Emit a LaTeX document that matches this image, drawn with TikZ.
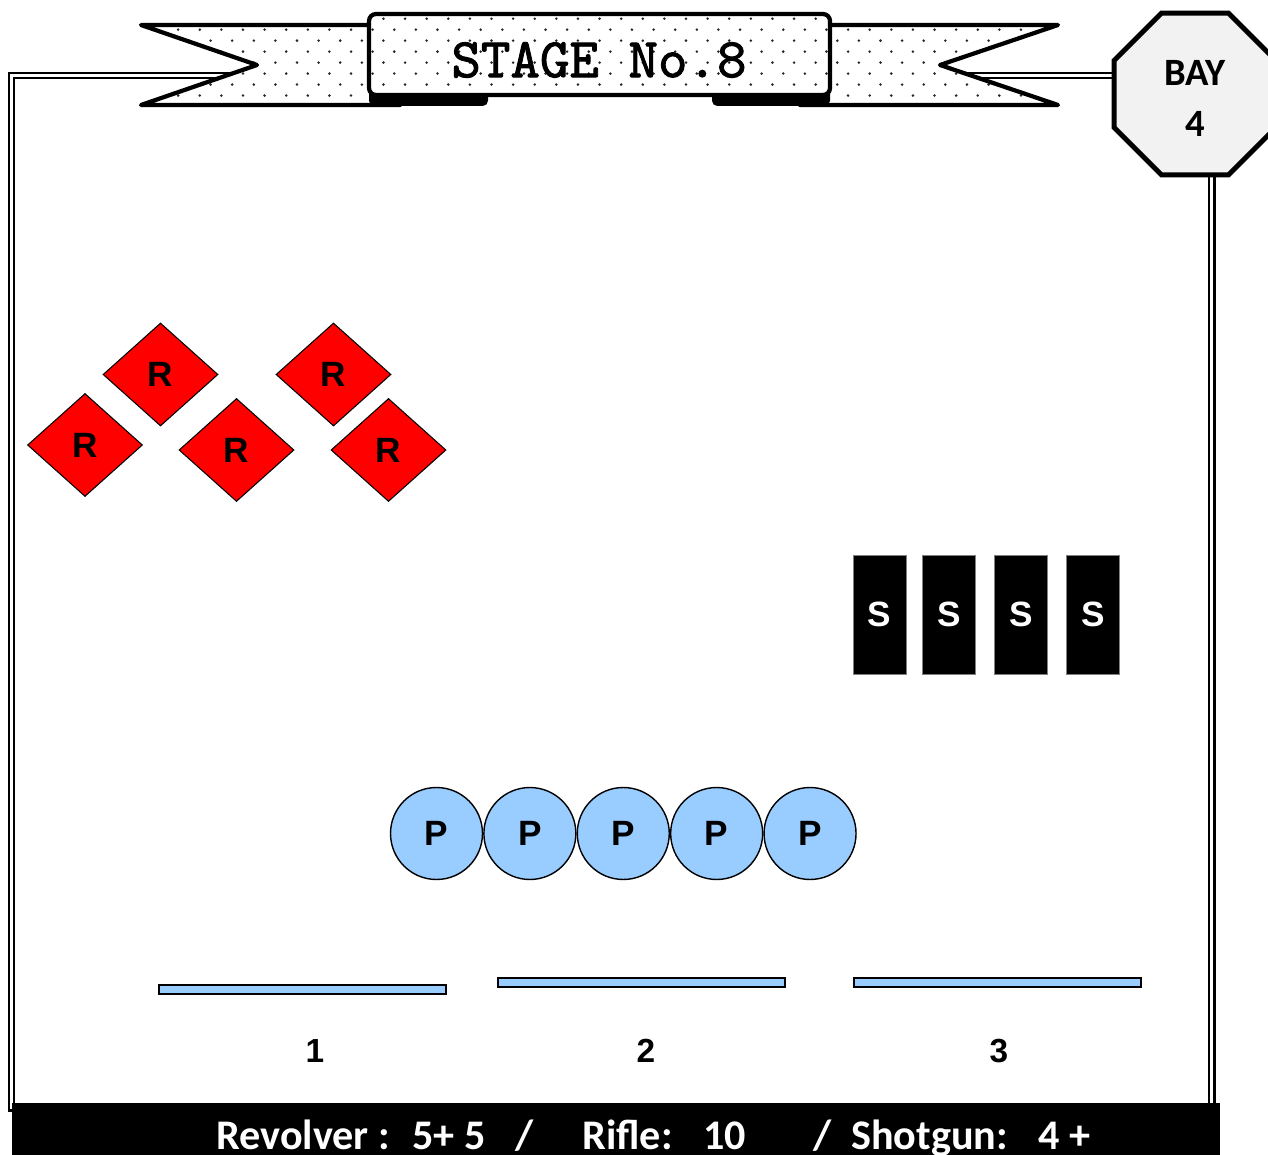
\documentclass[tikz,border=0pt]{standalone}
\usepackage{fontspec}
\usetikzlibrary{shapes.geometric,patterns,positioning}
\newfontfamily\arialfont{Liberation Sans}
\newfontfamily\calibrifont{Carlito}
\newfontfamily\stagefont{lmmono10-regular.otf}[FakeBold=1.6]
\definecolor{targetred}{HTML}{FF0000}
\definecolor{popperblue}{HTML}{99CCFF}
\definecolor{signgray}{HTML}{F2F2F2}
\pgfdeclarepatternformonly{bannerdots}{\pgfqpoint{-1pt}{-1pt}}{\pgfqpoint{13.3pt}{13.5pt}}{\pgfqpoint{12.3pt}{12.5pt}}{%
    \pgfpathcircle{\pgfqpoint{3pt}{3pt}}{0.8pt}%
    \pgfpathcircle{\pgfqpoint{9.15pt}{9.25pt}}{0.8pt}%
    \pgfusepath{fill}}
\tikzset{
    banner/.style={preaction={fill=white},pattern=bannerdots,pattern color=black!85,draw,line width=2.4pt,line join=round},
    rifle/.style={diamond,draw,fill=targetred,line width=0.6pt,minimum width=2.3cm,minimum height=2.06cm,inner sep=0pt,font=\arialfont\bfseries\fontsize{20}{20}\selectfont},
    popper/.style={circle,draw,fill=popperblue,line width=0.8pt,minimum size=1.84cm,inner sep=0pt,font=\arialfont\bfseries\fontsize{20}{20}\selectfont},
    shotgun/.style={rectangle,fill=black,draw=gray,line width=0.4pt,text=white,minimum width=1.06cm,minimum height=2.38cm,inner sep=0pt,font=\arialfont\bfseries\fontsize{20}{20}\selectfont},
    shootbox/.style={rectangle,draw,fill=popperblue,line width=0.75pt,minimum width=5.74cm,minimum height=0.18cm,inner sep=0pt},
    boxnum/.style={font=\arialfont\bfseries\fontsize{19}{19}\selectfont,inner sep=0pt},
    baysign/.style={regular polygon,regular polygon sides=8,draw,fill=signgray,line width=2.8pt,minimum size=3.5cm,inner sep=0pt,align=center,font=\calibrifont\bfseries\fontsize{22}{29}\selectfont},
    roundinfo/.style={text=white,anchor=base west,inner sep=0pt,font=\calibrifont\bfseries\fontsize{24}{24}\selectfont}
}

\begin{document}
\begin{tikzpicture}[x=0.02cm,y=-0.02cm]
    \useasboundingbox (0,0) rectangle (1268,1155);
    % double frame
    \draw[line width=1.7pt] (9,73) rectangle (1214,1110);
    \draw[line width=1.1pt] (14,78) rectangle (1209,1110);

    % stage banner
    \path[banner] (141,25) -- (400,25) -- (400,105) -- (141,105) -- (257,65) -- cycle;
    \path[banner] (800,25) -- (1058,25) -- (940,65) -- (1058,105) -- (800,105) -- cycle;
    \fill[rounded corners=3pt] (369,86) rectangle (488,106);
    \fill[rounded corners=3pt] (712,86) rectangle (830,106);
    \path[banner,rounded corners=4pt] (369,14) rectangle (830,95);
    \node[font=\stagefont\fontsize{32}{32}\selectfont,inner sep=0pt] (title) at (599,60) {STAGE No.8};

    % bay sign
    \node[baysign] (bay) at (1195,94) {\rule{0pt}{19pt}BAY\\4};

    % rifle targets
    \foreach \x/\y [count=\n] in {85/445,160.5/374.5,236.5/450,333.5/374.5,388.5/450}
        \node[rifle] (r\n) at (\x,\y) {R};

    % shotgun targets
    \foreach \x [count=\n] in {879.5,949,1021,1093}
        \node[shotgun] (s\n) at (\x,614.5) {S};

    % pistol targets
    \node[popper] (p1) at (436.5,833.5) {P};
    \foreach \i [remember=\i as \j (initially 1)] in {2,...,5}
        \node[popper,right=0pt of p\j] (p\i) {P};

    % shooting positions
    \node[shootbox] (box1) at (302.5,989.5) {};
    \node[shootbox] (box2) at (641.5,982.5) {};
    \node[shootbox] (box3) at (997.5,982.5) {};
    \node[boxnum] (n1) at (315,1051) {1};
    \node[boxnum] (n2) at (646,1051) {2};
    \node[boxnum] (n3) at (999,1051) {3};

    % round count
    \fill (12,1103) rectangle (1220,1165);
    \foreach \x/\t [count=\n] in {216/{Revolver :},412/{5+ 5},515/{/},582/{Rifle:},703/{10},813/{/},851/{Shotgun:},1038/{4 +}}
        \node[roundinfo] (info\n) at (\x,1149) {\t};
\end{tikzpicture}
\end{document}
